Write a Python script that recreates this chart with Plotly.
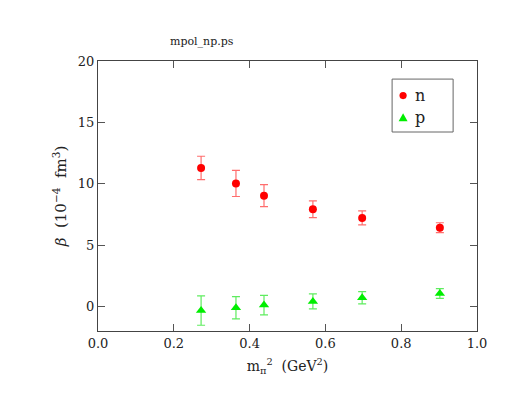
import plotly.graph_objects as go

# data
mpi2_n = [0.272, 0.364, 0.438, 0.567, 0.697, 0.902]
beta_n = [11.29, 10.02, 9.03, 7.92, 7.21, 6.42]
err_n = [0.95, 1.06, 0.90, 0.68, 0.57, 0.40]

mpi2_p = [0.272, 0.364, 0.438, 0.567, 0.697, 0.902]
beta_p = [-0.33, -0.11, 0.11, 0.41, 0.71, 1.06]
err_p = [1.20, 0.91, 0.79, 0.61, 0.50, 0.40]

x_ticks = [0.0, 0.2, 0.4, 0.6, 0.8, 1.0]
y_ticks = [0, 5, 10, 15, 20]
legend_labels = ["n", "p"]

serif = "DejaVu Serif"
RED = "#ff0000"
GREEN = "#00ee00"

fig = go.Figure()
fig.add_trace(go.Scatter(
    x=mpi2_n, y=beta_n, mode="markers", name=legend_labels[0], showlegend=False,
    marker=dict(symbol="circle", size=8, color=RED),
    error_y=dict(type="data", array=err_n, visible=True, color="rgba(255,60,60,0.75)",
                 thickness=1.2, width=4),
))
fig.add_trace(go.Scatter(
    x=mpi2_p, y=beta_p, mode="markers", name=legend_labels[1], showlegend=False,
    marker=dict(symbol="triangle-up", size=9, color=GREEN),
    error_y=dict(type="data", array=err_p, visible=True, color="rgba(40,230,40,0.75)",
                 thickness=1.2, width=4),
))

axis_common = dict(
    showline=True, linecolor="#444444", linewidth=1.2, mirror="ticks",
    ticks="inside", ticklen=7, tickcolor="#555555", tickwidth=1.2,
    showgrid=False, zeroline=False,
    tickfont=dict(family=serif, size=13, color="#222222"),
)

# legend box drawn by hand (paper coordinates)
lx0, lx1, ly0, ly1 = 0.776, 0.937, 0.737, 0.933
mx = 0.805
my = [0.872, 0.79]
tx = 0.83

shapes = [
    dict(type="rect", xref="paper", yref="paper", x0=lx0, x1=lx1, y0=ly0, y1=ly1,
         line=dict(color="#666666", width=1), fillcolor="white", layer="above"),
    dict(type="circle", xref="paper", yref="paper", xsizemode="pixel", ysizemode="pixel",
         xanchor=mx, yanchor=my[0], x0=-3.6, x1=3.6, y0=-3.6, y1=3.6,
         fillcolor=RED, line=dict(color=RED, width=0), layer="above"),
    dict(type="path", xref="paper", yref="paper", xsizemode="pixel", ysizemode="pixel",
         xanchor=mx, yanchor=my[1], path="M -4.5 -3.5 L 4.5 -3.5 L 0 4.5 Z",
         fillcolor=GREEN, line=dict(color=GREEN, width=0), layer="above"),
]

annotations = [
    dict(text="mpol_np.ps", xref="paper", yref="paper", x=0.185, y=1.04,
         showarrow=False, xanchor="left", yanchor="bottom",
         font=dict(family=serif, size=11, color="#222222")),
]
for lab, yy in zip(legend_labels, my):
    annotations.append(dict(text=lab, xref="paper", yref="paper", x=tx, y=yy,
                            showarrow=False, xanchor="left", yanchor="middle",
                            font=dict(family=serif, size=16, color="#222222")))

fig.update_layout(
    width=521, height=401,
    margin=dict(l=90, r=52, t=53, b=78),
    paper_bgcolor="white", plot_bgcolor="white",
    xaxis=dict(range=[0, 1], tickvals=x_ticks, ticktext=[f"{v:.1f}" for v in x_ticks],
               title=dict(text="m<sub>π</sub><sup>2</sup>  (GeV<sup>2</sup>)",
                          font=dict(family=serif, size=14, color="#222222"), standoff=11),
               **axis_common),
    yaxis=dict(range=[-2, 20], tickvals=y_ticks, ticktext=[str(v) for v in y_ticks],
               title=dict(text="<i>β</i>  (10<sup>−4</sup>  fm<sup>3</sup>)",
                          font=dict(family=serif, size=15, color="#222222"), standoff=7),
               **axis_common),
    showlegend=False,
    shapes=shapes,
    annotations=annotations,
)

fig.write_html("out.html")
